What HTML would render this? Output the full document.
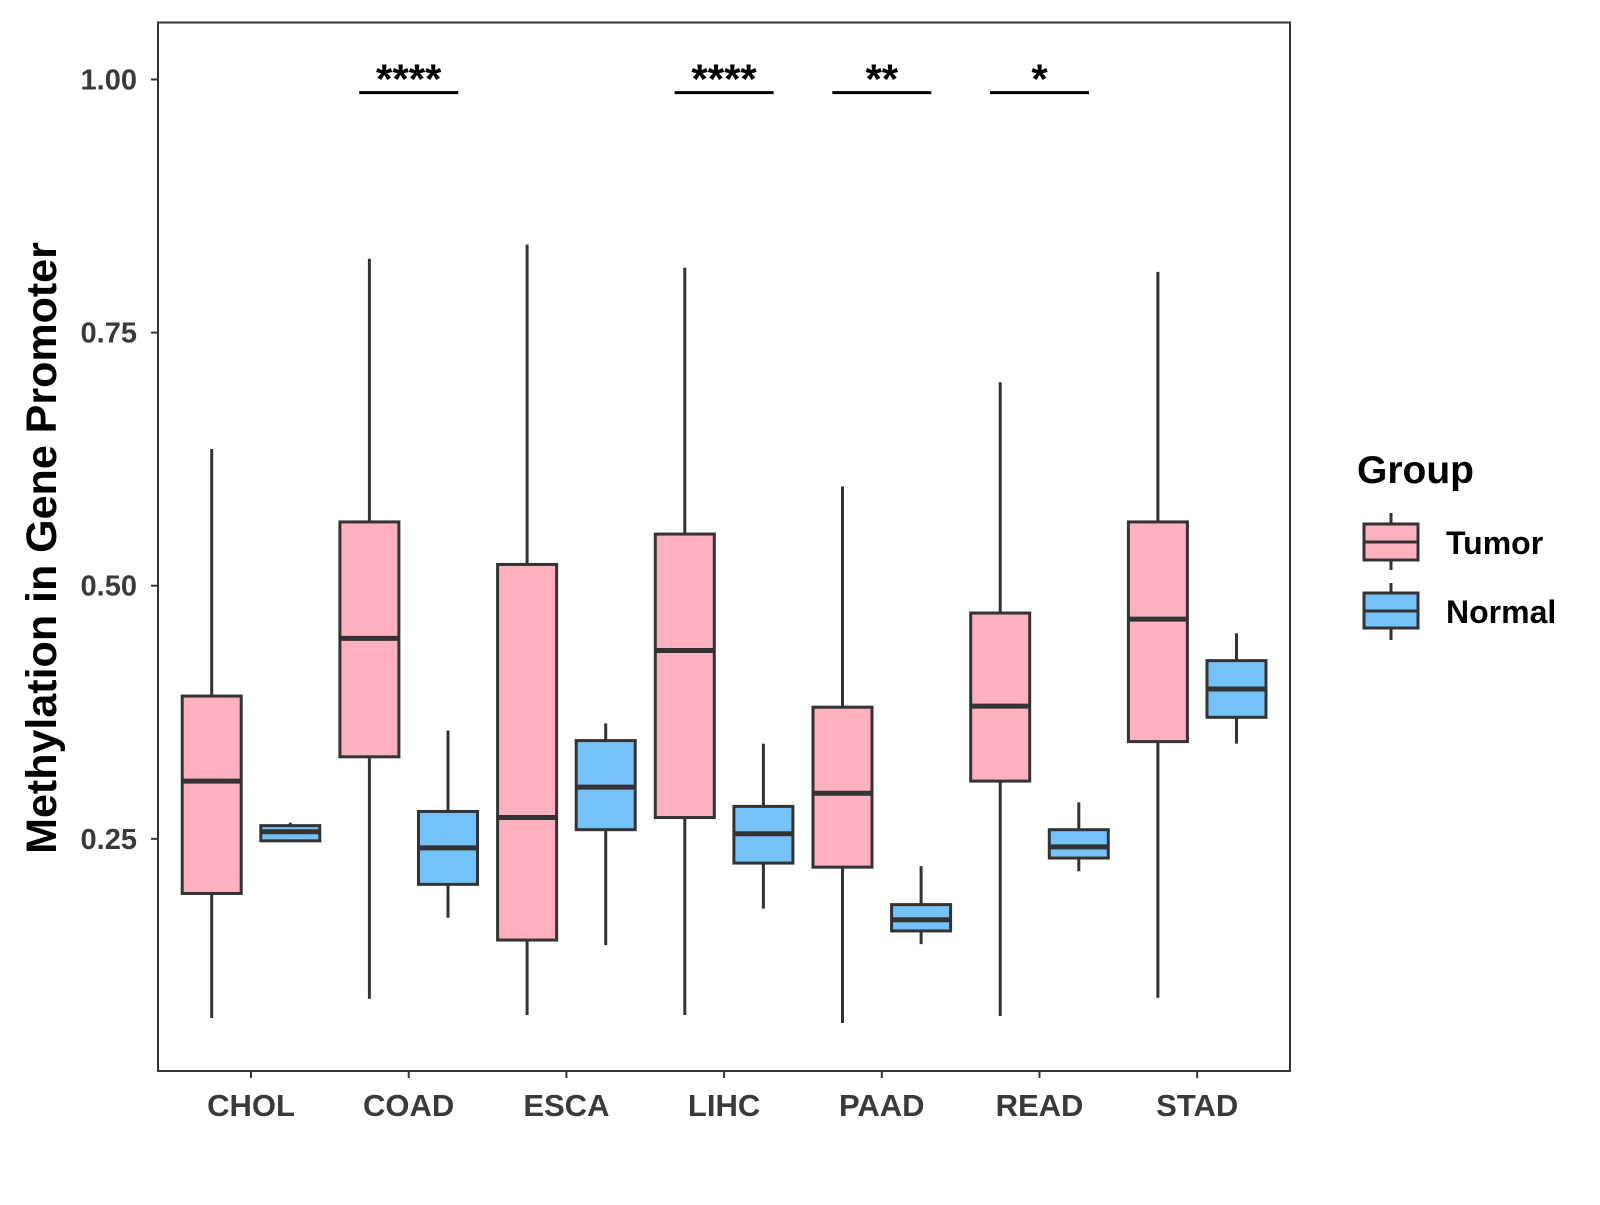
<!DOCTYPE html>
<html><head><meta charset="utf-8"><style>
body{margin:0;background:#fff}
text{font-family:"Liberation Sans",Arial,sans-serif;font-weight:bold}
</style></head><body>
<svg id="chart" width="1600" height="1200" viewBox="0 0 1600 1200" xmlns="http://www.w3.org/2000/svg">
<rect x="0" y="0" width="1600" height="1200" fill="#fff"/>
<g id="plot"></g>
<rect x="158" y="22.5" width="1132" height="1048.5" fill="none" stroke="#333" stroke-width="2"/>
<text transform="translate(56,548) rotate(-90)" text-anchor="middle" font-size="43" fill="#000">Methylation in Gene Promoter</text>
<g>
<text x="1357" y="483" font-size="39" fill="#000">Group</text>
<line x1="1391" y1="513" x2="1391" y2="570" stroke="#333" stroke-width="3"/>
<rect x="1364" y="524" width="54" height="36" fill="#FDB0C0" stroke="#333" stroke-width="3"/>
<line x1="1364" y1="542" x2="1418" y2="542" stroke="#333" stroke-width="3"/>
<text x="1446" y="554" font-size="32" fill="#000">Tumor</text>
<line x1="1391" y1="583" x2="1391" y2="640" stroke="#333" stroke-width="3"/>
<rect x="1364" y="593" width="54" height="35" fill="#74C2F8" stroke="#333" stroke-width="3"/>
<line x1="1364" y1="611" x2="1418" y2="611" stroke="#333" stroke-width="3"/>
<text x="1446" y="623" font-size="32" fill="#000">Normal</text>
</g>
</svg>
<script>
const categories=["CHOL","COAD","ESCA","LIHC","PAAD","READ","STAD"];
const tumorStats=[[0.073,0.196,0.307,0.391,0.635],[0.092,0.331,0.448,0.563,0.823],[0.076,0.150,0.271,0.521,0.837],[0.076,0.271,0.436,0.551,0.814],[0.068,0.222,0.295,0.380,0.598],[0.075,0.307,0.381,0.473,0.701],[0.093,0.346,0.467,0.563,0.810]];
const normalStats=[[0.248,0.248,0.257,0.263,0.266],[0.172,0.205,0.241,0.277,0.357],[0.145,0.259,0.301,0.347,0.364],[0.181,0.226,0.255,0.282,0.344],[0.146,0.159,0.170,0.185,0.223],[0.218,0.231,0.242,0.259,0.286],[0.344,0.370,0.398,0.426,0.453]];
const yTicks=[0.25,0.50,0.75,1.00];
const yTickLabels=["0.25","0.50","0.75","1.00"];
const sigCategories=["COAD","LIHC","PAAD","READ"];
const sigLabels=["****","****","**","*"];
const sigLevel=0.987;

const NS="http://www.w3.org/2000/svg";
const g=document.getElementById('plot');
function y(v){return 838.8-(v-0.25)/0.25*253.1;}
function x(i){return 251+i*157.7;}
function el(tag,attrs,parent){const e=document.createElementNS(NS,tag);for(const k in attrs)e.setAttribute(k,attrs[k]);(parent||g).appendChild(e);return e;}
yTicks.forEach((t,i)=>{
  const l=el('line',{x1:151,x2:158,y1:y(t),y2:y(t),stroke:'#333','stroke-width':2});
  
  
  const tx=el('text',{x:137,y:y(t)+10,'text-anchor':'end','font-size':29,fill:'#3a3a3a'});
  tx.textContent=yTickLabels[i];
  
  
});
function box(cx,s,fill,name){
  const grp=el('g',{});
  
  
  el('line',{x1:cx,x2:cx,y1:y(s[0]),y2:y(s[4]),stroke:'#333','stroke-width':3},grp);
  el('rect',{x:cx-29.5,y:y(s[3]),width:59,height:y(s[1])-y(s[3]),fill:fill,stroke:'#333','stroke-width':3},grp);
  el('line',{x1:cx-29.5,x2:cx+29.5,y1:y(s[2]),y2:y(s[2]),stroke:'#333','stroke-width':5},grp);
}
categories.forEach((c,i)=>{
  box(x(i)-39.3,tumorStats[i],'#FDB0C0','box-tumor-'+c.toLowerCase());
  box(x(i)+39.3,normalStats[i],'#74C2F8','box-normal-'+c.toLowerCase());
  const l=el('line',{x1:x(i),x2:x(i),y1:1071,y2:1078,stroke:'#333','stroke-width':2});
  
  
  const tx=el('text',{x:x(i),y:1116,'text-anchor':'middle','font-size':31,fill:'#3a3a3a'});
  tx.textContent=c;
  
  
});
sigCategories.forEach((c,k)=>{
  const i=categories.indexOf(c);
  const l=el('line',{x1:x(i)-49.5,x2:x(i)+49.5,y1:y(sigLevel),y2:y(sigLevel),stroke:'#000','stroke-width':3});
  
  
  const t=el('text',{x:x(i),y:y(sigLevel)+1,'text-anchor':'middle','font-size':42,fill:'#000'});
  t.textContent=sigLabels[k];
  
  
});
</script>
</body></html>
